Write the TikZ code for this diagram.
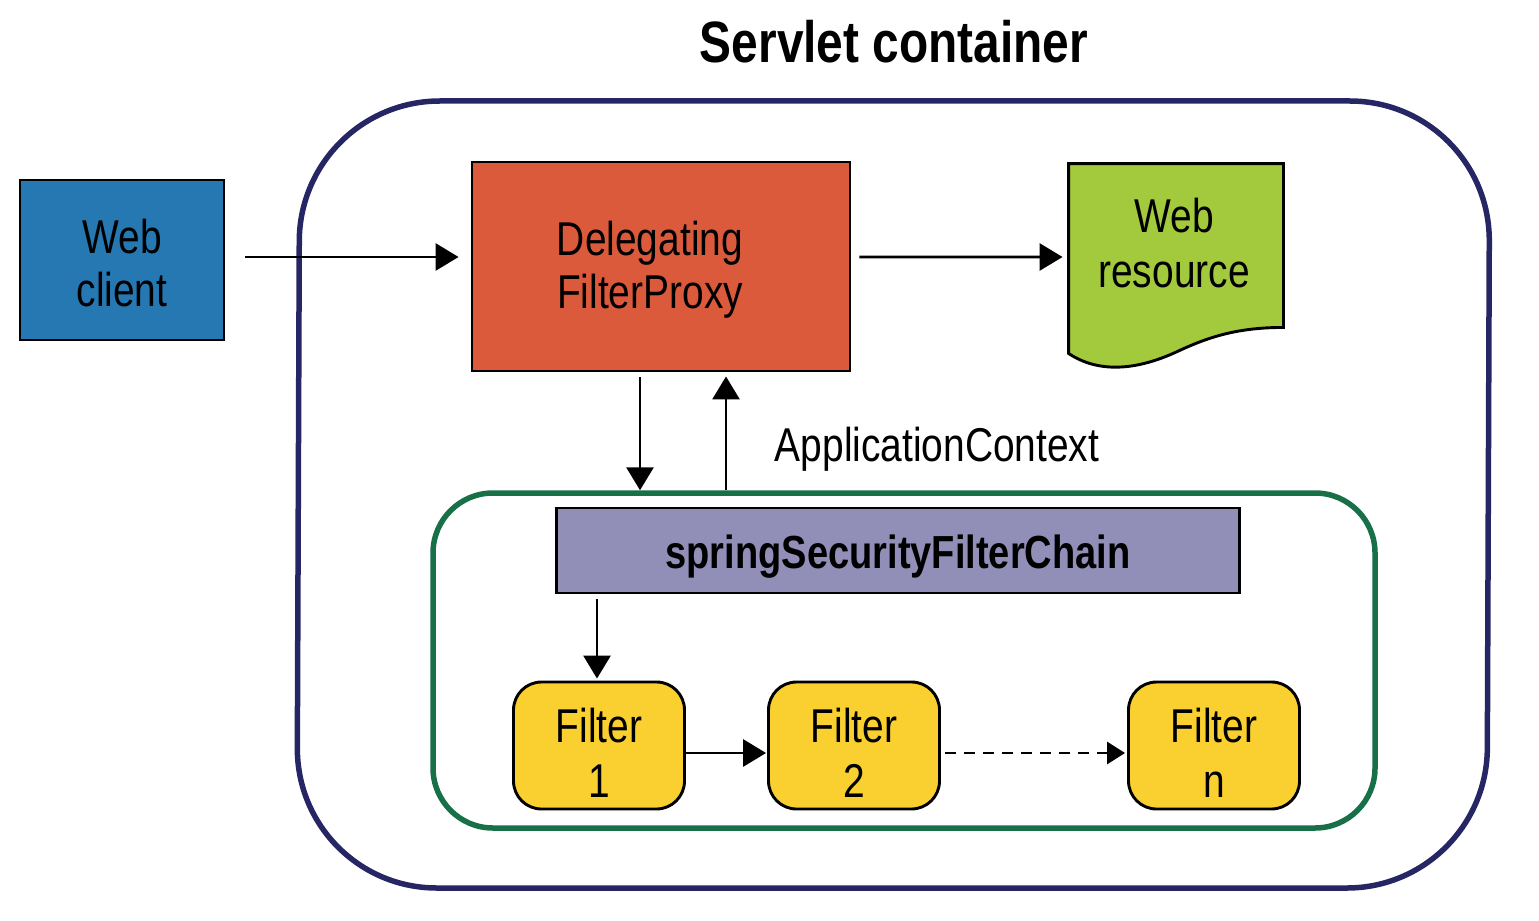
\documentclass[tikz,border=0pt]{standalone}
\usepackage{fontspec}
\setmainfont[FakeStretch=0.82]{Liberation Sans}
\usetikzlibrary{arrows.meta,positioning,backgrounds,calc}
\definecolor{clientclr}{RGB}{38,120,178}
\definecolor{proxyclr}{RGB}{220,90,60}
\definecolor{resclr}{RGB}{163,201,60}
\definecolor{chainclr}{RGB}{145,142,184}
\definecolor{filterclr}{RGB}{250,208,48}
\definecolor{outerbdr}{RGB}{38,38,100}
\definecolor{innerbdr}{RGB}{24,112,72}
\newcommand{\ftxt}[1]{\rule{0pt}{0.49cm}Filter\\#1}
\tikzset{
  blk/.style={rectangle,draw=black,line width=0.29mm,inner sep=0pt,align=center,
    font=\fontsize{13.5}{15.1}\selectfont},
  fblk/.style={blk,rounded corners=0.28cm,fill=filterclr,minimum width=1.71cm,minimum height=1.27cm,
    font=\fontsize{13.5}{15.4}\selectfont},
  grpbox/.style={rectangle,line width=0.55mm,inner sep=0pt},
  arr/.style={-{Triangle[length=0.23cm,width=0.27cm]},line width=0.29mm,color=black},
  darr/.style={-{Triangle[length=0.18cm,width=0.22cm]},line width=0.29mm,color=black,dash pattern=on 1.1mm off 0.8mm},
  lbl/.style={font=\fontsize{13.5}{15.1}\selectfont,inner sep=0pt},
}
\begin{document}
\begin{tikzpicture}[x=1cm,y=1cm]
  \useasboundingbox (0,0) rectangle (15.39,9.20);
  \node[font=\fontsize{16.6}{20}\selectfont\bfseries,inner sep=0pt] (title) at (8.94,8.78) {Servlet container};

  \node[grpbox,draw=outerbdr,rounded corners=1.4cm,minimum width=11.9cm,minimum height=7.87cm,
    xslant=0.0038,transform shape] (outer) at (8.933,4.255) {};
  \node[grpbox,draw=innerbdr,rounded corners=0.6cm,minimum width=9.42cm,minimum height=3.35cm] (inner) at (9.04,2.595) {};

  \node[blk,fill=clientclr,minimum width=2.04cm,minimum height=1.6cm] (client) at (1.22,6.6) {\rule{0pt}{0.4cm}Web\\client};
  \node[blk,fill=proxyclr,minimum width=3.78cm,minimum height=2.09cm] (proxy) at (6.61,6.535) {\rule{0pt}{0.4cm}Delegating\hspace*{0.22cm}\\FilterProxy\hspace*{0.22cm}};
  \node[blk,draw=none,minimum width=2.12cm,minimum height=1.61cm,font=\fontsize{13.5}{15.6}\selectfont] (res) at (11.76,6.745) {Web\hspace*{0.04cm}\\resource\hspace*{0.04cm}\rule[-0.06cm]{0pt}{0pt}};
  \node[blk,fill=chainclr,minimum width=6.83cm,minimum height=0.85cm,font=\fontsize{13.2}{14.9}\selectfont\bfseries] (chain) at (8.98,3.695) {\rule{0pt}{0.45cm}springSecurityFilterChain};

  \node[fblk] (f1) at (5.99,1.745) {\ftxt{1}};
  \node[fblk] (f2) at (8.54,1.745) {\ftxt{2}};
  \node[fblk] (fn) at (12.14,1.745) {\ftxt{n}};

  \node[lbl] (ctx) at (9.37,4.71) {ApplicationContext};

  \begin{scope}[on background layer]
    \draw[line width=0.29mm,fill=resclr] (res.north west) -- (res.north east) -- (res.south east)
      .. controls +(-0.45,0) and +(0.32,0.15) .. ($(res.south east)+(-1.06,-0.24)$)
      .. controls +(-0.3,-0.14) and +(0.36,-0.24) .. ($(res.south west)+(0,-0.26)$) -- cycle;
  \end{scope}

  \draw[arr] ([xshift=0.2cm,yshift=0.03cm]client.east) -- ([xshift=-0.12cm,yshift=0.095cm]proxy.west);
  \draw[arr] ([xshift=0.08cm,yshift=0.095cm]proxy.east) -- ([xshift=-0.06cm,yshift=-0.115cm]res.west);
  \draw[arr] ([xshift=-0.21cm,yshift=-0.05cm]proxy.south) -- ([xshift=-0.21cm]proxy.south |- inner.north);
  \draw[arr] ([xshift=0.65cm]proxy.south |- inner.north) -- ([xshift=0.65cm,yshift=-0.04cm]proxy.south);
  \draw[arr] ([xshift=-0.02cm,yshift=-0.05cm]chain.south -| f1.north) -- ([xshift=-0.02cm,yshift=0.02cm]f1.north);
  \draw[arr] ([yshift=-0.075cm]f1.east) -- ([xshift=-0.01cm,yshift=-0.075cm]f2.west);
  \draw[darr] ([xshift=0.04cm,yshift=-0.075cm]f2.east) -- ([xshift=-0.02cm,yshift=-0.075cm]fn.west);
\end{tikzpicture}
\end{document}
